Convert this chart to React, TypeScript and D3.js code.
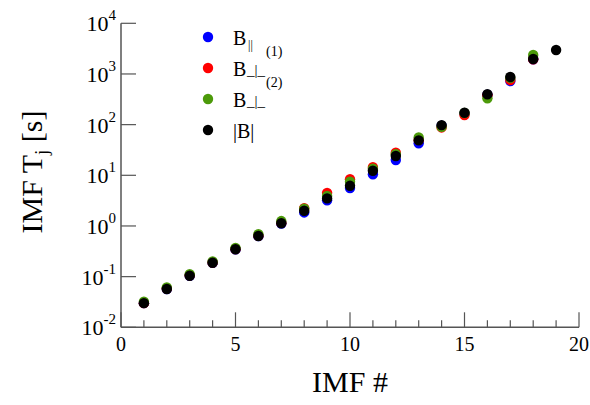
import React from "react";
import * as d3 from "d3";

const imf = [1, 2, 3, 4, 5, 6, 7, 8, 9, 10, 11, 12, 13, 14, 15, 16, 17, 18, 19];
const bPar = [0.030, 0.057, 0.104, 0.188, 0.345, 0.63, 1.12, 1.85, 3.2, 5.6, 10.5, 20, 43, 95, 165, 390, 725, 1950];
const bPerp1 = [0.030, 0.058, 0.106, 0.19, 0.35, 0.64, 1.15, 2.25, 4.5, 8.4, 14.5, 28, 50, 88, 155, 380, 760, 1950];
const bPerp2 = [0.032, 0.061, 0.112, 0.2, 0.37, 0.69, 1.25, 2.2, 3.9, 7.5, 13.5, 26, 56, 91, 170, 331, 840, 2365];
const bAbs = [0.030, 0.057, 0.104, 0.188, 0.347, 0.634, 1.13, 2.0, 3.5, 6.2, 12.3, 24, 49, 98, 172, 397, 871, 1970, 2970];
const xTicks = [0, 5, 10, 15, 20];
const yExponents = [-2, -1, 0, 1, 2, 3, 4];

const colors = { par: "#0000ff", p1: "#ff0000", p2: "#4c9a0a", abs: "#000000" };

const series = [
  { key: "par", values: bPar, color: colors.par },
  { key: "p1", values: bPerp1, color: colors.p1 },
  { key: "p2", values: bPerp2, color: colors.p2 },
  { key: "abs", values: bAbs, color: colors.abs },
];

export default function App() {
  const W = 590, H = 405;
  const left = 121, right = 579, top = 23.3, bottom = 327.3;
  const x = d3.scaleLinear().domain([0, 20]).range([left, right]);
  const y = d3.scaleLog().domain([1e-2, 1e4]).range([bottom, top]);
  const axisColor = "#555";
  const font = "'Liberation Serif', 'Times New Roman', serif";
  const minor = d3.range(1, 20);

  const legendX = 208, legendText = 233, legendY0 = 37, legendDy = 31;
  const rowY = (i: number) => legendY0 + i * legendDy;

  return (
    <svg width={W} height={H} style={{ position: "absolute", left: 0, top: 0, background: "#fff" }} fontFamily={font}>
      {/* axes */}
      <line x1={left} x2={left} y1={top} y2={bottom} stroke={axisColor} strokeWidth={1.5} />
      <line x1={left} x2={right} y1={bottom} y2={bottom} stroke={axisColor} strokeWidth={1.5} />
      {minor.filter((v) => v % 5 !== 0).map((v) => (
        <line key={"mx" + v} x1={x(v)} x2={x(v)} y1={bottom} y2={bottom - 7} stroke={axisColor} strokeWidth={1.2} />
      ))}
      {xTicks.map((v) => (
        <line key={"tx" + v} x1={x(v)} x2={x(v)} y1={bottom} y2={bottom - 15} stroke={axisColor} strokeWidth={1.2} />
      ))}
      {yExponents.map((e) => (
        <line key={"ty" + e} x1={left} x2={left + 15} y1={y(Math.pow(10, e))} y2={y(Math.pow(10, e))} stroke={axisColor} strokeWidth={1.2} />
      ))}
      {xTicks.map((v) => (
        <text key={"lx" + v} x={x(v)} y={351} textAnchor="middle" fontSize={20} fill="#000">{v}</text>
      ))}
      {yExponents.map((e) => (
        <text key={"ly" + e} x={116} y={y(Math.pow(10, e)) + 8} textAnchor="end" fontSize={22} fill="#000">
          10<tspan dy={-11} fontSize={15}>{e}</tspan>
        </text>
      ))}
      {/* axis titles */}
      <text x={350} y={392} textAnchor="middle" fontSize={30} fill="#000">IMF #</text>
      <text transform={`translate(42, 172) rotate(-90)`} textAnchor="middle" fontSize={30} fill="#000">
        IMF T<tspan dy={6} fontSize={19}>j</tspan><tspan dy={-6}> [s]</tspan>
      </text>
      {/* points */}
      {series.map((s) => (
        <g key={s.key}>
          {s.values.map((v, i) => (
            <circle key={i} cx={x(imf[i])} cy={y(v)} r={5.2} fill={s.color} />
          ))}
        </g>
      ))}
      {/* legend */}
      <g fill="#000">
        <circle cx={legendX} cy={rowY(0)} r={5.2} fill={colors.par} />
        <text x={legendText} y={rowY(0) + 7.5} fontSize={20}>B</text>
        <text x={248} y={rowY(0) + 12} fontSize={12}>||</text>

        <circle cx={legendX} cy={rowY(1)} r={5.2} fill={colors.p1} />
        <text x={legendText} y={rowY(1) + 7.5} fontSize={20}>B</text>
        <text x={247} y={rowY(1) + 7} fontSize={15}>_|_</text>
        <text x={266} y={rowY(1) - 12} fontSize={14}>(1)</text>

        <circle cx={legendX} cy={rowY(2)} r={5.2} fill={colors.p2} />
        <text x={legendText} y={rowY(2) + 7.5} fontSize={20}>B</text>
        <text x={247} y={rowY(2) + 7} fontSize={15}>_|_</text>
        <text x={266} y={rowY(2) - 12} fontSize={14}>(2)</text>

        <circle cx={legendX} cy={rowY(3)} r={5.2} fill={colors.abs} />
        <text x={legendText} y={rowY(3) + 7.5} fontSize={20}>|B|</text>
      </g>
    </svg>
  );
}
